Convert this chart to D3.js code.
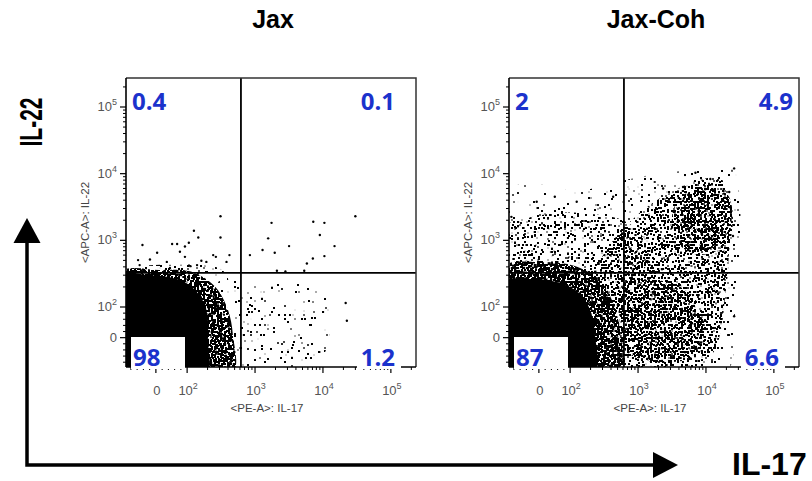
<!DOCTYPE html>
<html>
<head>
<meta charset="utf-8">
<script src="https://cdn.jsdelivr.net/npm/d3@7"></script>
<style>
  body { margin: 0; background: #fff; }
  svg { display: block; }
</style>
</head>
<body>
<div id="chart"></div>
<script>
// panel titles and quadrant percentages (upper-left, upper-right, lower-left, lower-right)
var panelNames = ["Jax", "Jax-Coh"];
var jaxPct = ["0.4", "0.1", "98", "1.2"];
var cohPct = ["2", "4.9", "87", "6.6"];

// quadrant gates, raw fluorescence units (IL-17, IL-22)
var il17Gate = 620, il22Gate = 325;

// axis ticks
var majorTicks = [0, 100, 1000, 10000, 100000];
var tickBase = ["0", "10", "10", "10", "10"];
var tickExp = ["", "2", "3", "4", "5"];
var linearMinor = [-80, -60, -40, -20, 20, 40, 60, 80];
var mantissas = [2, 3, 4, 5, 6, 7, 8, 9];

// event density outlines, [IL-17, IL-22]
var jaxCore = [[-120,-120],[-120,291],[-19,300],[45,280],[93,235],[140,167],[183,107],[202,58],[202,-8],[190,-120]];
var jaxFringe = [[-120,-120],[-120,324],[13,358],[110,345],[183,270],[284,180],[400,90],[472,9],[457,-120]];
var jaxRim = [[-120,300],[-60,400],[60,430],[200,420],[330,360],[400,250],[200,300]];
var jaxSparse = [[300,250],[1175,215],[4570,250],[9500,180],[12600,58],[8900,-73],[600,-120],[300,-120]];

var cohCore = [[-120,-120],[-120,235],[-28,262],[35,250],[93,206],[149,146],[202,84],[232,9],[224,-120]];
var cohFringe = [[-120,-120],[-120,384],[3,472],[117,411],[274,250],[412,127],[537,27],[500,-120]];
var cohCloud = [[232,301],[385,850],[758,1880],[1490,3380],[3480,5680],[8110,8020],[15960,8590],[22000,4780],[25000,2010],[22000,714],[20900,301],[18900,127],[17100,41],[13500,-40],[8110,-89],[456,-120],[412,27],[325,127]];
var cohHotUpper = [[3140,2010],[4120,4300],[9600,6080],[20900,4780],[23900,2010],[18900,850],[8110,601],[4120,850]];
var cohHotLower = [[578,213],[2090,250],[6180,151],[9600,41],[6840,-57],[1770,-79],[640,-40],[537,58]];
var cohUpperLeft = [[-120,334],[-120,1500],[-28,2200],[67,2600],[195,2500],[597,2000],[1060,1300],[1490,600],[1060,334]];
var cohOuter = [[-120,384],[-86,6000],[3,7000],[118,5500],[385,7000],[1060,9000],[4120,11000],[15960,15000],[26000,12000],[31400,4020],[31400,714],[26500,127],[26500,-8],[18900,-120],[500,-120],[500,27],[385,180]];

// single events outside the dense regions
var jaxEvents = [[310,2300],[310,1100],[126,1390],[146,1100],[-43,850],[4,650],[52,880],[68,880],[106,920],[93,810],[77,675],
  [-57,505],[-52,425],[-19,515],[35,475],[93,565],[162,495],[192,475],[242,600],[265,565],[380,475],[420,600],[112,410],[140,425],[45,385],
  [1750,1830],[1560,1070],[1290,715],[840,600],[1950,650],[3170,820],[2100,350],[2800,340],[5300,350],[5800,450],[7100,535],
  [9000,1200],[7200,1900],[10500,1830],[10500,580],[14800,820],[30000,2300],[21600,115],[22500,55]];
var cohEvents = [[26000,12000],[7000,10300],[11600,8300],[22000,5300],[25000,1160],[26000,70],[19000,180],[-7,3800],
  [51,4500],[125,3800],[430,4500],[-88,2250],[2340,6000],[4600,6300]];

var W = 812, H = 481;
var plotTop = 78, plotBottom = 367, pw = 290;
var blue = "#1b32cc";

// biexponential-like display transform: log above 100, linear below
function biex(v) { return v >= 100 ? Math.log10(v) : 2 - 0.46 * (100 - v) / 100; }

var svg = d3.select("#chart").append("svg").attr("width", W).attr("height", H);
var defs = svg.append("defs");

// dot textures for the event clouds: thresholded noise grown into 2x2 dots
var densities = {dense: 0.55, hot: 0.62, mid: 0.64, low: 0.68, sparse: 0.72};
Object.keys(densities).forEach(function(k, i) {
  var f = defs.append("filter").attr("id", "sp-" + k)
    .attr("filterUnits", "userSpaceOnUse")
    .attr("x", 0).attr("y", 0).attr("width", W).attr("height", H)
    .attr("color-interpolation-filters", "sRGB");
  f.append("feTurbulence").attr("type", "fractalNoise").attr("baseFrequency", 0.7)
    .attr("numOctaves", 1).attr("seed", 3 + i * 11).attr("result", "noise");
  f.append("feColorMatrix").attr("in", "noise").attr("type", "matrix")
    .attr("values", "0 0 0 0 0  0 0 0 0 0  0 0 0 0 0  60 0 0 0 " + (-60 * densities[k]))
    .attr("result", "seeds");
  f.append("feConvolveMatrix").attr("in", "seeds").attr("order", 2)
    .attr("kernelMatrix", "1 1 1 1").attr("divisor", 1).attr("edgeMode", "none")
    .attr("result", "dots");
  f.append("feComposite").attr("in", "dots").attr("in2", "SourceGraphic").attr("operator", "in");
});

var panels = [
  {name: panelNames[0], left: 126, pct: jaxPct, urOff: 21, lrOff: 21, events: jaxEvents,
   regions: [[jaxSparse, "sparse"], [jaxRim, "low"], [jaxFringe, "dense"], [jaxCore, "solid"]]},
  {name: panelNames[1], left: 509, pct: cohPct, urOff: 6, lrOff: 20, events: cohEvents,
   regions: [[cohOuter, "sparse"], [cohUpperLeft, "low"], [cohCloud, "mid"], [cohHotUpper, "hot"],
             [cohHotLower, "hot"], [cohFringe, "dense"], [cohCore, "solid"]]}
];

panels.forEach(function(p, pi) {
  var right = p.left + pw;
  var x = d3.scaleLinear().domain([1.1, 5.37]).range([p.left, right]);
  var y = d3.scaleLinear().domain([1.1, 5.435]).range([plotBottom, plotTop]);
  var X = function(v) { return x(biex(v)); };
  var Y = function(v) { return y(biex(v)); };

  defs.append("clipPath").attr("id", "clip" + pi)
    .append("rect").attr("x", p.left).attr("y", plotTop).attr("width", pw).attr("height", plotBottom - plotTop);

  svg.append("text")
    .attr("x", p.left + pw / 2 + 2).attr("y", 28)
    .attr("text-anchor", "middle")
    .style("font-family", "'Liberation Sans', Arial, sans-serif")
    .style("font-weight", "bold").style("font-size", "25px")
    .text(p.name);

  var plot = svg.append("g").attr("clip-path", "url(#clip" + pi + ")");
  var outline = d3.line()
    .x(function(d) { return X(d[0]); })
    .y(function(d) { return Y(d[1]); })
    .curve(d3.curveCatmullRomClosed.alpha(0.5));

  p.regions.forEach(function(r) {
    var path = plot.append("path").attr("d", outline(r[0])).attr("fill", "#000");
    if (r[1] != "solid") path.attr("filter", "url(#sp-" + r[1] + ")");
  });

  plot.selectAll("circle.ev")
    .data(p.events)
    .enter().append("circle")
      .attr("class", "ev")
      .attr("cx", function(d) { return X(d[0]); })
      .attr("cy", function(d) { return Y(d[1]); })
      .attr("r", 1.2)
      .attr("fill", "#000");

  // quadrant gates
  svg.append("line")
    .attr("x1", X(il17Gate)).attr("x2", X(il17Gate))
    .attr("y1", plotTop).attr("y2", plotBottom)
    .attr("stroke", "#000").attr("stroke-width", 1.8);
  svg.append("line")
    .attr("x1", p.left).attr("x2", right)
    .attr("y1", Y(il22Gate)).attr("y2", Y(il22Gate))
    .attr("stroke", "#000").attr("stroke-width", 1.8);

  // frame
  svg.append("path")
    .attr("d", "M" + p.left + "," + plotTop + "H" + right + "V" + plotBottom)
    .attr("fill", "none").attr("stroke", "#333").attr("stroke-width", 1.5);

  // axes
  var ax = svg.append("g").attr("stroke", "#000");
  ax.append("line").attr("x1", p.left).attr("x2", p.left).attr("y1", plotTop).attr("y2", plotBottom).attr("stroke-width", 1.6);
  ax.append("line").attr("x1", p.left).attr("x2", right).attr("y1", plotBottom).attr("y2", plotBottom).attr("stroke-width", 1.6);

  var minor = linearMinor.slice();
  [100, 1000, 10000].forEach(function(dec) {
    mantissas.forEach(function(m) { minor.push(m * dec); });
  });
  minor.push(200000);

  ax.selectAll("line.ym").data(minor).enter().append("line")
    .attr("x1", p.left - 3).attr("x2", p.left)
    .attr("y1", Y).attr("y2", Y).attr("stroke-width", 1);
  ax.selectAll("line.yM").data(majorTicks).enter().append("line")
    .attr("x1", p.left - 6).attr("x2", p.left)
    .attr("y1", Y).attr("y2", Y).attr("stroke-width", 1.2);
  ax.selectAll("line.xm").data(minor.filter(function(v) { return biex(v) < 5.37; })).enter().append("line")
    .attr("x1", X).attr("x2", X)
    .attr("y1", plotBottom).attr("y2", plotBottom + 3).attr("stroke-width", 1);
  ax.selectAll("line.xM").data(majorTicks).enter().append("line")
    .attr("x1", X).attr("x2", X)
    .attr("y1", plotBottom).attr("y2", plotBottom + 6).attr("stroke-width", 1.2);

  var tickFont = "'Liberation Sans', Arial, sans-serif";
  var yl = svg.append("g").selectAll("text").data(majorTicks).enter().append("text")
    .attr("x", p.left - 9)
    .attr("y", function(d) { return Y(d) + 4; })
    .attr("text-anchor", "end")
    .style("font-family", tickFont).style("font-size", "13px").style("fill", "#555");
  yl.append("tspan").text(function(d, i) { return tickBase[i]; });
  yl.append("tspan").attr("dy", -6).style("font-size", "9px").text(function(d, i) { return tickExp[i]; });

  var xl = svg.append("g").selectAll("text").data(majorTicks).enter().append("text")
    .attr("x", function(d) { return X(d) + 1; })
    .attr("y", plotBottom + 28)
    .attr("text-anchor", "middle")
    .style("font-family", tickFont).style("font-size", "13px").style("fill", "#555");
  xl.append("tspan").text(function(d, i) { return tickBase[i]; });
  xl.append("tspan").attr("dy", -6).style("font-size", "9px").text(function(d, i) { return tickExp[i]; });

  svg.append("text")
    .attr("x", p.left + 141).attr("y", plotBottom + 45)
    .attr("text-anchor", "middle")
    .style("font-family", tickFont).style("font-size", "11.5px").style("fill", "#444")
    .text("<PE-A>: IL-17");
  svg.append("text")
    .attr("transform", "translate(" + (p.left - 37) + "," + ((plotTop + plotBottom) / 2) + ") rotate(-90)")
    .attr("text-anchor", "middle")
    .style("font-family", tickFont).style("font-size", "11.5px").style("fill", "#444")
    .text("<APC-A>: IL-22");

  // quadrant percentages
  var labFont = "'Open Sans', 'Liberation Sans', sans-serif";
  svg.append("rect").attr("x", p.left + 5).attr("y", 337).attr("width", 54).attr("height", 32)
    .attr("fill", "#fff");
  svg.append("rect").attr("x", right - p.lrOff - 38).attr("y", 345).attr("width", 44).attr("height", 24)
    .attr("fill", "#fff");

  var labs = [
    {t: p.pct[0], x: p.left + 6, y: plotTop + 32, a: "start"},
    {t: p.pct[1], x: right - p.urOff, y: plotTop + 32, a: "end"},
    {t: p.pct[2], x: p.left + 7, y: 366, a: "start"},
    {t: p.pct[3], x: right - p.lrOff, y: 366, a: "end"}
  ];
  svg.append("g").selectAll("text").data(labs).enter().append("text")
    .attr("x", function(d) { return d.x; })
    .attr("y", function(d) { return d.y; })
    .attr("text-anchor", function(d) { return d.a; })
    .style("font-family", labFont).style("font-weight", "bold").style("font-size", "24px")
    .style("fill", blue)
    .text(function(d) { return d.t; });
});

// big axis arrows
svg.append("path")
  .attr("d", "M27,240V465H655")
  .attr("fill", "none").attr("stroke", "#000").attr("stroke-width", 3.5);
svg.append("path").attr("d", "M27,218L13.5,243H40.5Z").attr("fill", "#000");
svg.append("path").attr("d", "M678,465L653,452V478Z").attr("fill", "#000");

svg.append("text")
  .attr("transform", "translate(42,122) rotate(-90)")
  .attr("text-anchor", "middle")
  .attr("textLength", 49).attr("lengthAdjust", "spacingAndGlyphs")
  .style("font-family", "'Liberation Sans', Arial, sans-serif")
  .style("font-weight", "bold").style("font-size", "32px")
  .text("IL-22");
svg.append("text")
  .attr("x", 732).attr("y", 475)
  .style("font-family", "'Liberation Sans', Arial, sans-serif")
  .style("font-weight", "bold").style("font-size", "32px")
  .text("IL-17");
</script>
</body>
</html>
